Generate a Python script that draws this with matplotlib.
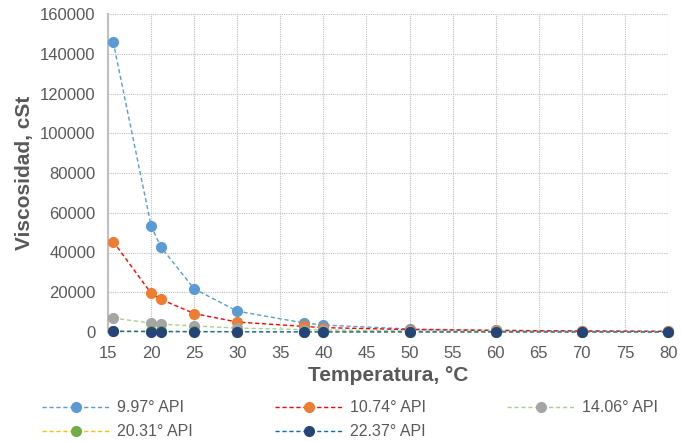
import numpy as np
import matplotlib.pyplot as plt

plt.rcParams['font.family'] = ['Liberation Sans', 'DejaVu Sans']

temp = [15.6, 20, 21.1, 25, 30, 37.8, 40, 50, 60, 70, 80]

api_997 = [146000, 53500, 43000, 21700, 10500, 4500, 3500, 1500, 800, 500, 300]
api_1074 = [45500, 19500, 16500, 9300, 5000, 2800, 2200, 1200, 800, 500, 300]
api_1406 = [7000, 4500, 4000, 3000, 2000, 1200, 1000, 600, 400, 250, 150]
api_2031 = [600, 450, 400, 300, 200, 120, 100, 70, 50, 35, 25]
api_2237 = [300, 200, 180, 150, 100, 60, 50, 40, 30, 20, 15]

labels = ['9.97° API', '10.74° API', '14.06° API', '20.31° API', '22.37° API']
series = [api_997, api_1074, api_1406, api_2031, api_2237]
line_colors = ['#5B9BD5', '#FF0000', '#A9D18E', '#FFC000', '#0070C0']
marker_colors = ['#5B9BD5', '#ED7D31', '#A5A5A5', '#70AD47', '#264478']

fig = plt.figure(figsize=(6.81, 4.42), dpi=100)
ax = fig.add_axes([108 / 681, 1 - 332 / 442, 560 / 681, 318 / 442])

handles = []
for y, lab, lc, mc in zip(series, labels, line_colors, marker_colors):
    h, = ax.plot(temp, y, linestyle=(0, (3, 2)), linewidth=1, color=lc,
                 marker='o', markersize=7, markerfacecolor=mc, markeredgecolor=mc,
                 label=lab, clip_on=False, zorder=3)
    handles.append(h)

ax.set_xlim(15, 80)
ax.set_ylim(0, 160000)
ax.set_xticks(np.arange(15, 81, 5))
ax.set_yticks(np.arange(0, 160001, 20000))
ax.grid(True, linestyle=(0, (1, 1)), color='#BFBFBF', linewidth=0.8)
ax.set_axisbelow(True)
for s in ['top', 'right', 'bottom']:
    ax.spines[s].set_visible(False)
ax.spines['left'].set_color('#BFBFBF')
ax.spines['left'].set_linewidth(1.5)
ax.tick_params(axis='both', length=0, labelsize=12, colors='#595959')
ax.tick_params(axis='x', pad=10)
ax.tick_params(axis='y', pad=9)

ax.set_xlabel('Temperatura, °C', fontsize=15, fontweight='bold', color='#595959', labelpad=4)
ax.set_ylabel('Viscosidad, cSt', fontsize=15, fontweight='bold', color='#595959', labelpad=4)

# row-wise legend order for 3 columns
order = [0, 3, 1, 4, 2]
leg = fig.legend([handles[i] for i in order], [labels[i] for i in order],
                 loc='upper left', bbox_to_anchor=(36 / 681, 1 - 394 / 442),
                 bbox_transform=fig.transFigure, borderaxespad=0, ncol=3,
                 frameon=False, fontsize=11.5, handlelength=4.25, columnspacing=5.1,
                 labelspacing=0.55, handletextpad=0.45)
for t in leg.get_texts():
    t.set_color('#595959')

fig.savefig('out.png', dpi=100)
